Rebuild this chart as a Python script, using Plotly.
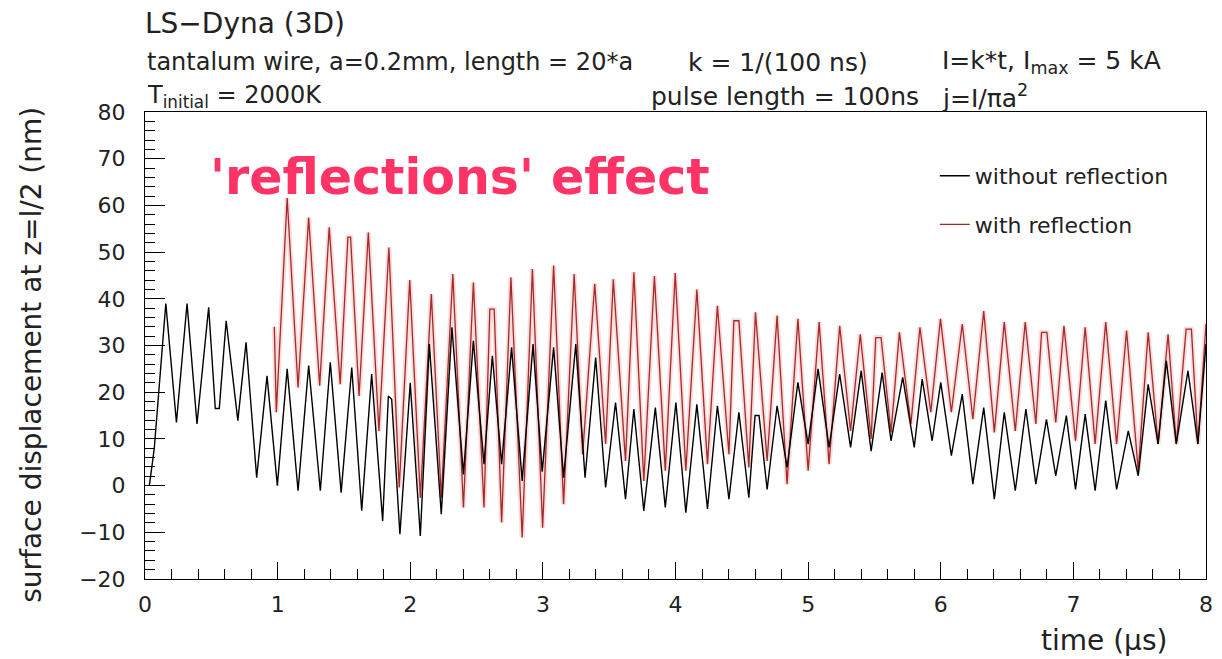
import plotly.graph_objects as go

# ---------------- data ----------------
t_without = [0.033, 0.07, 0.157, 0.237, 0.317, 0.392, 0.48, 0.53, 0.56, 0.612, 0.70, 0.762, 0.842, 0.92,
             0.998, 1.072, 1.154, 1.234, 1.322, 1.397, 1.479, 1.559, 1.634, 1.709, 1.792, 1.835, 1.86,
             1.922, 2.0, 2.076, 2.144, 2.234, 2.314, 2.401, 2.476, 2.556, 2.619, 2.689, 2.764, 2.844,
             2.926, 2.995, 3.081, 3.156, 3.248, 3.318, 3.398, 3.473, 3.548, 3.623, 3.686, 3.761, 3.848,
             3.923, 4.003, 4.078, 4.161, 4.241, 4.316, 4.403, 4.478, 4.553, 4.60, 4.63, 4.691, 4.766,
             4.841, 4.923, 5.0, 5.075, 5.158, 5.238, 5.320, 5.40, 5.475, 5.558, 5.625, 5.713, 5.80,
             5.86, 5.935, 6.0, 6.08, 6.162, 6.242, 6.324, 6.404, 6.479, 6.562, 6.642, 6.717, 6.797,
             6.867, 6.947, 7.016, 7.089, 7.164, 7.244, 7.326, 7.414, 7.489, 7.564, 7.639, 7.701,
             7.776, 7.864, 7.939, 8.0]
v_without = [0.0, 8, 39, 13.5, 39, 13.2, 38.2, 16.5, 16.5, 35.3, 13.9, 30.7, 1.7, 23.5,
             0.0, 25, -1.1, 25.7, -1.1, 26.4, -1.5, 25.3, -5.4, 23.9, -7.6, 19.2, 18.5,
             -10.4, 22, -10.8, 30.3, -6.1, 33.9, 2.4, 31, 4.6, 27.8, 4.6, 29.6, 1.0,
             30.3, 3.0, 29.6, 1.7, 30.3, 1.7, 27.4, -0.4, 17.8, -2.9, 16.4, -5.4, 16.7,
             -4.7, 17.8, -5.8, 17.4, -5.0, 17.1, -2.9, 15.7, -2.6, 15, 15, -0.8, 17.1,
             3.9, 22.1, 8.9, 25, 8.2, 23.9, 8.2, 24.6, 7.4, 24.2, 9.6, 23.2, 8.2,
             22.8, 9.6, 22.1, 6.4, 19.6, 0.3, 16.7, -2.9, 15.7, -1.1, 16.4, 0.3, 14.2,
             2.1, 15, -0.8, 15.3, -1.1, 18.2, -0.8, 11.7, 2.1, 21.7, 8.9, 26.7,
             8.9, 24.6, 8.9, 30.3]

t_with = [0.975, 0.99, 1.072, 1.154, 1.234, 1.317, 1.389, 1.472, 1.53, 1.55, 1.614, 1.684, 1.764,
          1.839, 1.917, 1.996, 2.076, 2.159, 2.234, 2.321, 2.401, 2.476, 2.556, 2.60, 2.633, 2.689,
          2.759, 2.844, 2.921, 2.998, 3.081, 3.156, 3.236, 3.30, 3.391, 3.473, 3.531, 3.623, 3.686,
          3.761, 3.841, 3.923, 3.998, 4.078, 4.161, 4.241, 4.316, 4.403, 4.44, 4.478, 4.553, 4.603,
          4.691, 4.766, 4.841, 4.923, 5.0, 5.083, 5.158, 5.238, 5.320, 5.393, 5.475, 5.51, 5.55,
          5.625, 5.688, 5.775, 5.843, 5.925, 5.998, 6.08, 6.162, 6.242, 6.324, 6.404, 6.479, 6.562,
          6.637, 6.717, 6.76, 6.80, 6.867, 6.929, 7.016, 7.089, 7.164, 7.244, 7.326, 7.401, 7.489,
          7.564, 7.639, 7.714, 7.776, 7.85, 7.89, 7.939, 8.0]
v_with = [34, 15.7, 61.6, 21, 57.4, 21.4, 55.3, 21.7, 53.2, 53.2, 19.2, 54.2, 11.7,
          51, -0.4, 44, -2.6, 41, -2.6, 45.3, -4.7, 43.5, -4.7, 37.8, 37.8, -7.9,
          44.6, -11.1, 46.4, -9, 47.1, -4, 45.3, 6.7, 43.2, 8.9, 44.2, 5.3, 45.7,
          1.0, 44.9, 3.2, 45.5, 3.2, 42, 4.6, 38.5, 6.7, 35.3, 35.3, 3.9, 37.1,
          5.3, 36.4, 0.3, 35.7, 3.2, 35, 4.6, 34.2, 11.7, 32.4, 10, 31.7, 31.7,
          11.4, 32.8, 13.2, 33.9, 15.7, 35.7, 15.7, 34.6, 14.2, 37.4, 11.4, 35, 11.7,
          35, 13.2, 32.8, 32.8, 13.5, 34.2, 9.6, 33.9, 8.9, 35, 8.9, 33.2, 3.2,
          32.8, 8.9, 32.4, 8.9, 33.5, 33.5, 8.9, 34.6]

x_ticks = [0, 1, 2, 3, 4, 5, 6, 7, 8]
y_ticks = [-20, -10, 0, 10, 20, 30, 40, 50, 60, 70, 80]

# ---------------- layout helpers ----------------
W, H = 1222, 659
L, R, T, B = 145, 1213, 112, 579


def px(x):
    return (x - L) / (R - L)


def py(y):
    return (B - y) / (B - T)


TXT = "#222222"
FONT = "DejaVu Sans"

fig = go.Figure()

# soft halo under the red curve (jpeg-like bleed in the reference)
fig.add_trace(go.Scatter(x=t_with, y=v_with, mode="lines", showlegend=False, hoverinfo="skip",
                         line=dict(color="rgba(230,120,120,0.25)", width=5)))
fig.add_trace(go.Scatter(x=t_with, y=v_with, mode="lines", name="with reflection",
                         legendgroup="b", legendrank=2,
                         line=dict(color="#a52a2a", width=1.3)))
fig.add_trace(go.Scatter(x=t_without, y=v_without, mode="lines", name="without reflection",
                         legendgroup="a", legendrank=1,
                         line=dict(color="#000000", width=1.4)))

ann = []


def text(x, y, s, size, anchor="left", color=TXT, angle=0, family=FONT):
    ann.append(dict(x=px(x), y=py(y), xref="paper", yref="paper", text=s, showarrow=False,
                    xanchor=anchor, yanchor="middle", textangle=angle,
                    font=dict(family=family, size=size, color=color)))


text(143, 24, "LS−Dyna (3D)", 28)
text(145, 62, "tantalum wire, a=0.2mm, length = 20*a", 24)
text(145, 97, "T<sub>initial</sub> = 2000K", 24)
text(690, 62, "k = 1/(100 ns)", 25)
text(652, 97, "pulse length = 100ns", 25)
text(945, 62, "I=k*t, I<sub>max</sub> = 5 kA", 25)
text(945, 97, "j=I/πa<sup>2</sup>", 25)
text(208, 177, "<b>'reflections' effect</b>", 49, color="#ff3366")
text(1176, 640, "time (µs)", 28, anchor="right")
text(30, 355, "surface displacement at z=l/2 (nm)", 28, anchor="center", angle=-90)

fig.update_layout(
    width=W, height=H,
    margin=dict(l=L, r=W - R, t=T, b=H - B),
    paper_bgcolor="white", plot_bgcolor="white",
    annotations=ann,
    showlegend=True,
    legend=dict(x=px(940), y=py(155), xanchor="left", yanchor="top",
                bgcolor="rgba(0,0,0,0)", tracegroupgap=17,
                font=dict(family=FONT, size=22, color=TXT)),
    xaxis=dict(range=[0, 8], tickvals=x_ticks, ticks="inside", ticklen=17, tickwidth=1,
               tickcolor="black", showline=True, linecolor="black", linewidth=1, mirror=True,
               showgrid=False, zeroline=False, ticklabelstandoff=6,
               tickfont=dict(family=FONT, size=22, color=TXT),
               minor=dict(dtick=0.2, ticks="inside", ticklen=10, tickcolor="black", showgrid=False)),
    yaxis=dict(range=[-20, 80], tickvals=y_ticks, ticks="inside", ticklen=20, tickwidth=1,
               tickcolor="black", showline=True, linecolor="black", linewidth=1, mirror=True,
               showgrid=False, zeroline=False, ticklabelstandoff=14,
               tickfont=dict(family=FONT, size=22, color=TXT),
               minor=dict(dtick=2, ticks="inside", ticklen=10, tickcolor="black", showgrid=False)),
)

fig.write_html("out.html")
